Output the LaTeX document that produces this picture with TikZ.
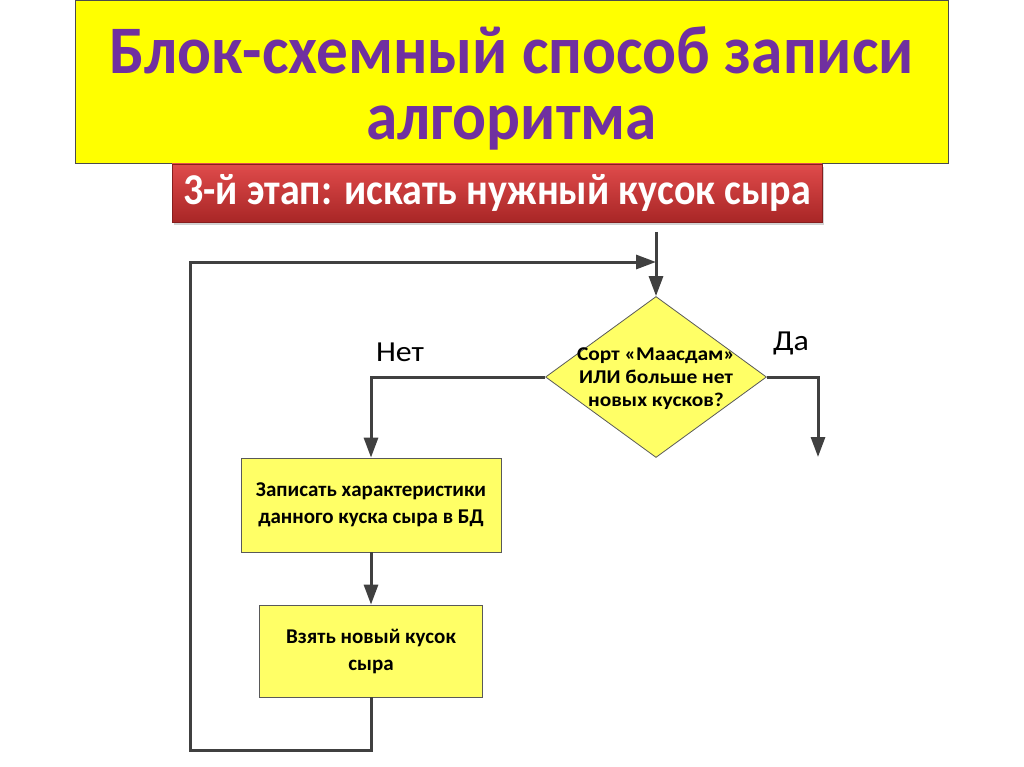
\documentclass[tikz,border=0pt]{standalone}
\usepackage{fontspec}
\setmainfont{Carlito}
\newfontfamily\titlefont[FakeStretch=0.93]{Carlito}
\newfontfamily\bannerfont[FakeStretch=0.91]{Carlito}
\newfontfamily\diafont[FakeStretch=1.1]{Carlito}
\newfontfamily\lblfont[FakeStretch=1.1]{Carlito}
\usetikzlibrary{arrows.meta,shapes.geometric,shadows}
\definecolor{ttlyellow}{HTML}{FFFF00}
\definecolor{ttlpurple}{HTML}{7030A0}
\definecolor{boxyellow}{HTML}{FFFF66}
\definecolor{linegray}{HTML}{404040}
\definecolor{bannertop}{HTML}{E04B4B}
\definecolor{bannerbot}{HTML}{A82626}
\begin{document}
\begin{tikzpicture}[x=1pt,y=-1pt,
  flow/.style={draw=linegray, line width=3pt},
  arr/.style={flow, -{Triangle[length=20pt,width=14pt]}},
  procbox/.style={draw=gray!70!black, fill=boxyellow, line width=0.8pt, align=center,
    font=\bfseries\fontsize{21}{27}\selectfont, inner sep=0pt},
  lbl/.style={font=\lblfont\fontsize{29}{32}\selectfont, text=black}
]
\useasboundingbox (0,0) rectangle (1024,767);
\fill[white] (0,0) rectangle (1024,767);

% title
\node[draw=gray!60!black, line width=0.8pt, fill=ttlyellow, minimum width=873pt, minimum height=163pt,
  inner sep=0pt] (title) at (511.5,81.5) {};
\node[inner sep=0pt, align=center, text=ttlpurple, font=\titlefont\bfseries\fontsize{68}{66}\selectfont]
  (titletext) at (511.5,88) {Блок-схемный способ записи\\алгоритма};

% banner
\node[top color=bannertop, bottom color=bannerbot, draw=bannerbot!80!black, line width=0.5pt,
  drop shadow={shadow xshift=2pt, shadow yshift=-3pt, opacity=0.35},
  minimum width=650pt, minimum height=58pt, inner sep=0pt, text=white,
  font=\bannerfont\bfseries\fontsize{44}{48}\selectfont] (banner) at (497,193) {3-й этап: искать нужный кусок сыра};

% flowchart
\coordinate (in) at (656,232);
\node[diamond, aspect=1.37, draw=gray!70!black, fill=boxyellow, line width=0.8pt,
  minimum width=221pt, minimum height=161pt, inner sep=0pt] (dia) at (656,377) {};
\node[inner sep=0pt, align=center, font=\diafont\bfseries\fontsize{19.5}{23}\selectfont]
  (diatext) at (656,379) {Сорт «Маасдам»\\ИЛИ больше нет\\новых кусков?};
\node[procbox, minimum width=260pt, minimum height=94pt] (box1) at (371,505)
  {Записать характеристики\\данного куска сыра в БД};
\node[procbox, minimum width=223pt, minimum height=92pt] (box2) at (371,651)
  {Взять новый кусок\\сыра};
\coordinate (yesend) at (818,457);
\coordinate (lb) at (190,750);
\coordinate (lt) at (190,262);

\node[lbl] (no) at (400,352) {Нет};
\node[lbl] (yes) at (791,343) {Да};

\draw[arr] (in) -- (dia.north);
\draw[arr] (dia.west) -| (box1.north);
\draw[arr] (dia.east) -| (yesend);
\draw[arr] (box1.south) -- (box2.north);
\draw[arr] (box2.south) |- (lb) -- (lt) -- (in |- lt);
\end{tikzpicture}
\end{document}
